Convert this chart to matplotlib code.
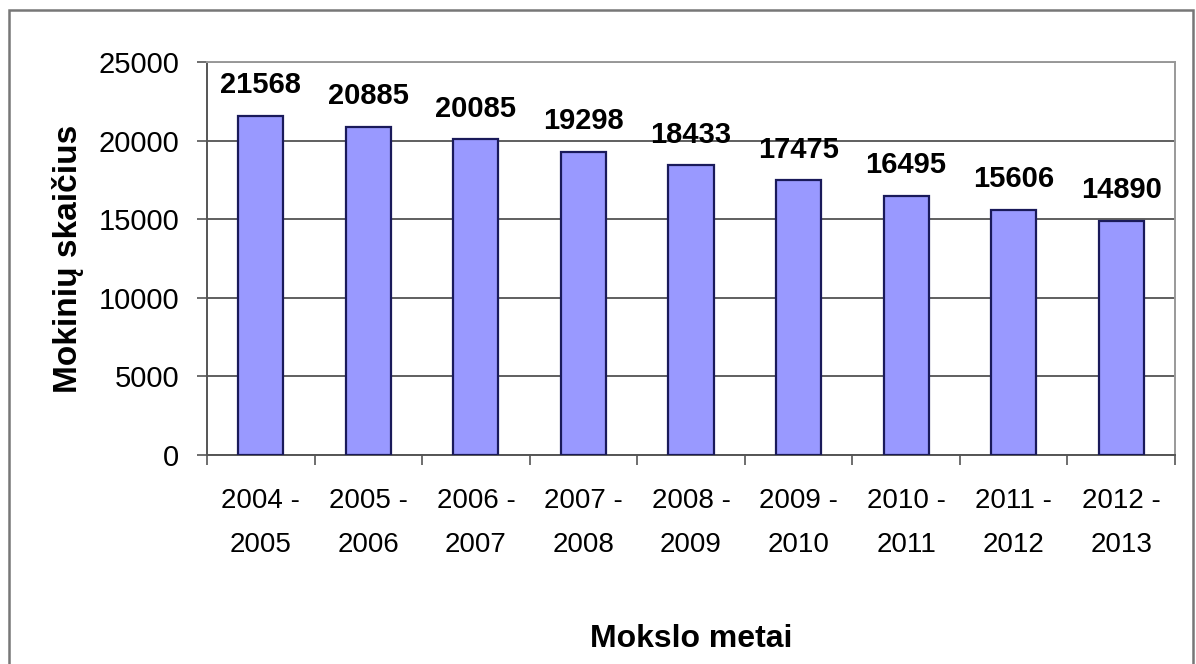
import matplotlib
matplotlib.use("Agg")
import matplotlib.pyplot as plt
from matplotlib.patches import Rectangle

categories = ["2004 -\n2005", "2005 -\n2006", "2006 -\n2007", "2007 -\n2008", "2008 -\n2009",
              "2009 -\n2010", "2010 -\n2011", "2011 -\n2012", "2012 -\n2013"]
values = [21568, 20885, 20085, 19298, 18433, 17475, 16495, 15606, 14890]
yticks = [0, 5000, 10000, 15000, 20000, 25000]

plt.rcParams['font.family'] = ['Liberation Sans', 'DejaVu Sans']

fig = plt.figure(figsize=(11.96, 6.64), dpi=100)
# outer frame (bottom edge is cut off in the reference)
fig.patches.append(Rectangle((9/1196, -0.05), (1193-9)/1196, 1.05 - 10/664,
                             transform=fig.transFigure, fill=False,
                             edgecolor='#777777', linewidth=1.8))

ax = fig.add_axes([207/1196, 1 - 455/664, (1175-207)/1196, (455-62)/664])
x = list(range(len(values)))
ax.bar(x, values, width=0.42, color='#9999FF', edgecolor='#1a1a5a', linewidth=1.6, zorder=3)
ax.set_xlim(-0.5, len(values) - 0.5)
ax.set_ylim(0, 25000)
ax.set_yticks(yticks)
ax.set_yticklabels([str(v) for v in yticks], fontsize=21)
ax.yaxis.grid(True, color='#444444', linewidth=1.2, zorder=0)
ax.set_xticks([i - 0.5 for i in range(len(values) + 1)], minor=False)
ax.set_xticklabels([])
ax.set_xticks(x, minor=True)
ax.set_xticklabels(categories, minor=True, fontsize=20, linespacing=1.9)
ax.tick_params(axis='x', which='minor', length=0, pad=24)
ax.tick_params(axis='x', which='major', length=7, width=1.2, color='#555555', direction='out')
ax.tick_params(axis='y', length=7, width=1.2, color='#555555', pad=13, direction='out')

for s in ['left', 'bottom']:
    ax.spines[s].set_color('#555555')
    ax.spines[s].set_linewidth(1.4)
for s in ['top', 'right']:
    ax.spines[s].set_color('#999999')
    ax.spines[s].set_linewidth(1.4)

for xi, v in zip(x, values):
    ax.annotate(str(v), (xi, v), xytext=(0, 22), textcoords='offset points',
                ha='center', va='center', fontsize=21, fontweight='bold')

ax.set_ylabel("Mokinių skaičius", fontsize=24, fontweight='bold', labelpad=10)
ax.set_xlabel("Mokslo metai", fontsize=23, fontweight='bold', labelpad=47)

fig.savefig("out.png", dpi=100)
